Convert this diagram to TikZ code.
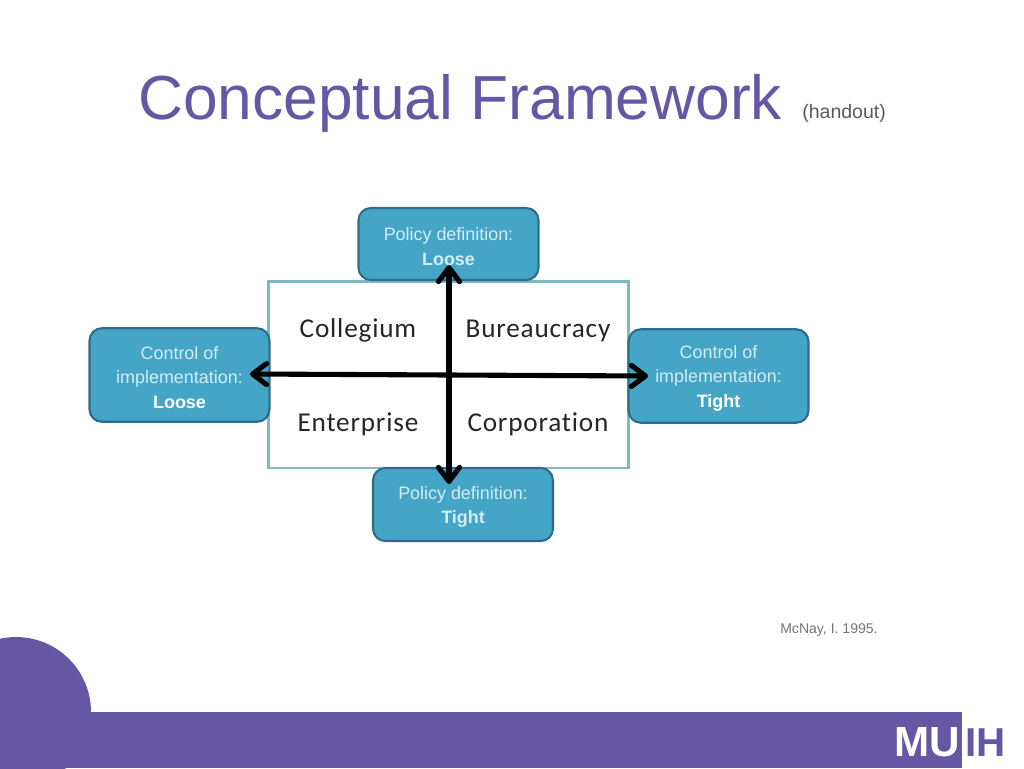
\documentclass[tikz,border=0pt]{standalone}
\usepackage{fontspec}
\setmainfont{Liberation Sans}
\newfontfamily\quadfont[LetterSpace=3,RawFeature={-liga}]{Carlito}
\usetikzlibrary{arrows.meta}
\definecolor{muihpurple}{HTML}{6657A5}
\definecolor{boxblue}{HTML}{45A5C6}
\definecolor{boxedge}{HTML}{2D6C8E}
\definecolor{gridedge}{HTML}{7DBAC2}
\definecolor{boxtext}{HTML}{D3EDF4}
\newcommand{\firstline}{\rule{0pt}{10pt}}
\tikzset{
  policybox/.style={draw=boxedge,fill=boxblue,line width=1.2pt,rounded corners=7pt,
    minimum width=3.6cm,text=boxtext,align=center,inner sep=0pt,
    font=\fontsize{10.2pt}{14pt}\selectfont},
  quadlabel/.style={anchor=base,font=\quadfont\fontsize{15.5pt}{17pt}\selectfont,text=black!85},
  axisarrow/.style={line width=2.9pt,black,{Straight Barb[length=8pt,width=12pt,round]}-{Straight Barb[length=8pt,width=12pt,round]}}
}
\begin{document}
\begin{tikzpicture}[x=0.02cm,y=-0.02cm]
    \useasboundingbox (0,0) rectangle (1024,768);
    % Bottom band and logo
    \begin{scope}
      \clip (0,0) rectangle (1024,768);
      \fill[muihpurple] (16,712) circle [radius=75];
      \fill[muihpurple] (0,712) rectangle (962,768);
    \end{scope}
    \node[anchor=base west,inner sep=0pt,white,font=\bfseries\fontsize{24pt}{24pt}\selectfont] (logoA) at (894,756) {MU};
    \node[anchor=base west,inner sep=0pt,muihpurple,font=\bfseries\fontsize{23pt}{24pt}\selectfont] (logoB) at (965,756) {IH};

    % Title
    \node[anchor=base west,inner sep=0pt,muihpurple,font=\fontsize{35.45pt}{36pt}\selectfont] (title) at (138,119) {Conceptual Framework};
    \node[anchor=base west,inner sep=0pt,text=black!65,font=\fontsize{11.1pt}{12pt}\selectfont] (handout) at (802,118) {(handout)};

    % Quadrants
    \node[draw=gridedge,fill=white,line width=1.25pt,minimum width=7.2cm,minimum height=3.73cm,inner sep=0pt] (grid) at (448.5,374.7) {};
    \node[quadlabel] (collegium) at (358,337) {Collegium};
    \node[quadlabel] (bureaucracy) at (538,337) {Bureaucracy};
    \node[quadlabel] (enterprise) at (358,431) {Enterprise};
    \node[quadlabel] (corporation) at (538,431) {Corporation};

    % Outer boxes
    \node[policybox,minimum height=1.44cm] (policyLoose) at (448.5,244) {\firstline Policy definition:\\\textbf{Loose}};
    \node[policybox,minimum height=1.46cm] (policyTight) at (463,504.5) {\firstline Policy definition:\\\textbf{Tight}};
    \node[policybox,minimum height=1.87cm] (controlLoose) at (179.5,375) {\firstline Control of\\implementation:\\\textcolor{white}{\textbf{Loose}}};
    \node[policybox,minimum height=1.87cm] (controlTight) at (718.5,376) {\firstline Control of\\implementation:\\\textcolor{white}{\textbf{Tight}}};

    % Axes
    \coordinate (tipTop) at (449,265);
    \coordinate (tipBottom) at (449,484);
    \coordinate (tipLeft) at (250,374);
    \coordinate (tipRight) at (648,376);
    \draw[axisarrow] (tipTop) -- (tipBottom);
    \draw[axisarrow] (tipLeft) -- (tipRight);

    % Source
    \node[anchor=base east,inner sep=0pt,text=black!55,font=\fontsize{8pt}{10pt}\selectfont] (source) at (878,633) {McNay, I. 1995.};
\end{tikzpicture}
\end{document}
